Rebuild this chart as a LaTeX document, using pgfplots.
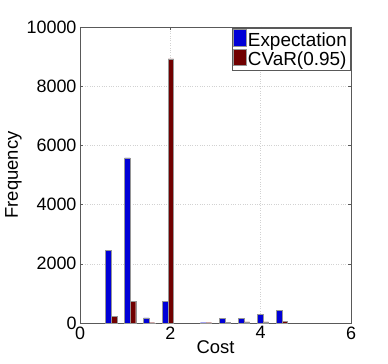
\documentclass[border=0pt]{standalone}
\usepackage{fontspec}
\setmainfont{Liberation Sans}
\usepackage{pgfplots}
\pgfplotsset{compat=1.18}
\usetikzlibrary{calc}
\definecolor{expBlue}{RGB}{0,0,215}
\definecolor{cvarRed}{RGB}{112,0,0}
\definecolor{edgeGray}{RGB}{150,150,150}

\begin{document}
\begin{tikzpicture}
\begin{axis}[
  name=ax,
  scale only axis,
  width=271bp,height=296bp,
  xmin=0,xmax=6,ymin=0,ymax=10000,
  xtick={0,2,4,6},ytick={0,2000,...,10000},
  scaled y ticks=false,
  /pgf/number format/1000 sep={},
  /pgf/number format/assume math mode=true,
  ybar=0pt,bar width=5.6bp,
  grid=major,grid style={dotted,gray!35},
  axis line style={gray!70!black},
  tick style={gray!70!black},
  tick align=inside,major tick length=3bp,
  tick label style={font=\fontsize{18}{20}\selectfont},
  label style={font=\fontsize{18.5}{20}\selectfont},
  xlabel={Cost},ylabel={Frequency},
  xlabel style={yshift=5bp},
  ylabel style={yshift=-2bp},
  legend style={at={(1,1)},anchor=north east,font=\fontsize{19}{21}\selectfont,
    draw=gray!70!black,inner sep=1pt,row sep=-1pt,xshift=-1bp,yshift=-1bp},
  legend image code/.code={\draw[#1] (0cm,-0.2cm) rectangle (0.44cm,0.38cm);},
  legend cell align=left,
]
\addplot[fill=expBlue,draw=edgeGray,line width=0.4pt] coordinates {
  (0.69,2460) (1.11,5580) (1.53,170) (1.95,740) (2.79,10)
  (3.21,150) (3.63,150) (4.05,290) (4.47,430)};
\addplot[fill=cvarRed,draw=edgeGray,line width=0.4pt] coordinates {
  (0.69,215) (1.11,740) (1.53,10) (1.95,8920) (2.79,10)
  (3.21,20) (3.63,35) (4.05,40) (4.47,60)};
\legend{Expectation,CVaR(0.95)}
\end{axis}
\path[use as bounding box] ($(ax.south west)+(-80bp,-41bp)$) rectangle ($(ax.north east)+(37bp,27bp)$);
\end{tikzpicture}
\end{document}
